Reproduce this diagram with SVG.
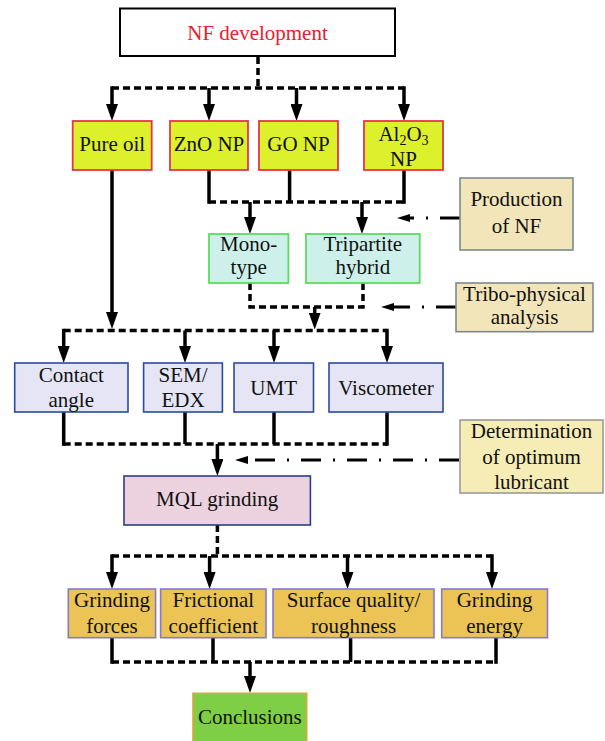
<svg xmlns="http://www.w3.org/2000/svg" width="605" height="741" viewBox="0 0 605 741">
<defs>
<style>
.sol{stroke:#000;stroke-width:3.5;fill:none}
.dash{stroke:#000;stroke-width:3.5;stroke-dasharray:7 4;fill:none}
.dd{stroke:#000;stroke-width:3;stroke-dasharray:20 12 2 12;fill:none}
.arr{marker-end:url(#ah)}
.arr2{marker-end:url(#ah2)}
.t text{font-family:'Liberation Serif','Times New Roman',Times,serif;font-size:21px;text-anchor:middle;fill:#111}
.np rect{fill:#dcf02c;stroke:#e8344c;stroke-width:1.8}
.hy rect{fill:#cdf1ea;stroke:#5ddc5d;stroke-width:1.8}
.side rect{fill:#f3e5ba;stroke:#7d8a8c;stroke-width:1.6}
.tst rect{fill:#e5e5f5;stroke:#2c4a9e;stroke-width:1.6}
.res rect{fill:#ecc456;stroke:#8878d0;stroke-width:1.6}
</style>
<marker id="ah" viewBox="0 -6 17 12" refX="7" refY="0" markerWidth="17" markerHeight="12" markerUnits="userSpaceOnUse" orient="auto">
<path d="M0,-6 L17,0 L0,6 z" fill="#000"/>
</marker>
<marker id="ah2" viewBox="0 -4 13 8" refX="0" refY="0" markerWidth="13" markerHeight="8" markerUnits="userSpaceOnUse" orient="auto">
<path d="M0,-4 L13,0 L0,4 z" fill="#000"/>
</marker>
</defs>
<rect width="605" height="741" fill="#fff"/>

<g id="connectors">
<path class="dash" d="M258,57 V88"/>
<path class="dash" d="M112,88 H404"/>
<path class="sol arr" d="M112,86.3 V111"/>
<path class="sol arr" d="M209,88 V111"/>
<path class="sol arr" d="M296.5,88 V111"/>
<path class="sol arr" d="M404,86.3 V111"/>

<path class="sol" d="M209,170 V203.8"/>
<path class="sol" d="M289.6,170 V202"/>
<path class="sol" d="M404,170 V203.8"/>
<path class="dash" d="M209,202 H404"/>
<path class="sol arr" d="M250,202 V224"/>
<path class="sol arr" d="M362,202 V224"/>
<path class="sol arr" d="M112,170 V319"/>
<path class="dd arr2" d="M460,218 H410"/>

<path class="dash" d="M250,283 V307 H363 V283"/>
<path class="sol arr" d="M314.7,307 V319.5"/>
<path class="dd arr2" d="M456,307 H394"/>
<path class="dash" d="M63.7,330.5 H387"/>
<path class="sol arr" d="M63.7,328.8 V353"/>
<path class="sol arr" d="M185,330.5 V353"/>
<path class="sol arr" d="M274,330.5 V353"/>
<path class="sol arr" d="M387,328.8 V353"/>

<path class="sol" d="M63.7,412 V445.8"/>
<path class="sol" d="M185,412 V444"/>
<path class="sol" d="M274,412 V444"/>
<path class="sol" d="M387,412 V445.8"/>
<path class="dash" d="M63.7,444 H387"/>
<path class="sol arr" d="M217.4,444 V466"/>
<path class="dd arr2" d="M459,460 H248"/>
<path class="dash" d="M217.4,525 V556"/>

<path class="dash" d="M112,556 H492"/>
<path class="sol arr" d="M112,554.3 V579"/>
<path class="sol arr" d="M209.6,556 V579"/>
<path class="sol arr" d="M347.5,556 V579"/>
<path class="sol arr" d="M492,554.3 V579"/>
<path class="sol" d="M112,638 V663.8"/>
<path class="sol" d="M213,638 V662"/>
<path class="sol" d="M350.6,638 V662"/>
<path class="sol" d="M496,638 V663.8"/>
<path class="dash" d="M112,662 H496"/>
<path class="sol arr" d="M250,662 V683"/>
</g>

<g class="t" font-family="Liberation Serif, Times New Roman, serif">
<g id="nf-development">
<rect x="120" y="8.5" width="275" height="47.5" fill="#fff" stroke="#000" stroke-width="2"/>
<text x="257.5" y="40" style="fill:#e8202a">NF development</text>
</g>

<g id="pure-oil" class="np">
<rect x="72.7" y="121" width="79" height="49"/>
<text x="112.2" y="151">Pure oil</text>
</g>
<g id="zno-np" class="np">
<rect x="170" y="121" width="78" height="49"/>
<text x="209" y="151">ZnO NP</text>
</g>
<g id="go-np" class="np">
<rect x="259" y="121" width="79" height="49"/>
<text x="298.5" y="151">GO NP</text>
</g>
<g id="al2o3-np" class="np">
<rect x="364" y="121" width="79" height="49"/>
<text x="403.5" y="140.6">Al<tspan font-size="14" dy="4">2</tspan><tspan dy="-4">O</tspan><tspan font-size="14" dy="4">3</tspan></text>
<text x="403.5" y="165.6">NP</text>
</g>

<g id="mono-type" class="hy">
<rect x="209" y="234" width="79.4" height="49"/>
<text x="248.7" y="250.5">Mono-</text>
<text x="248.7" y="274">type</text>
</g>
<g id="tripartite-hybrid" class="hy">
<rect x="306" y="234" width="113.7" height="49"/>
<text x="362.8" y="250.5">Tripartite</text>
<text x="362.8" y="274">hybrid</text>
</g>

<g id="production-of-nf" class="side">
<rect x="460" y="178" width="113" height="72"/>
<text x="516.5" y="205.6">Production</text>
<text x="516.5" y="232.6">of NF</text>
</g>
<g id="tribo-physical-analysis" class="side">
<rect x="456" y="283" width="137" height="48.7"/>
<text x="524.5" y="300.6">Tribo-physical</text>
<text x="524.5" y="324.3">analysis</text>
</g>

<g id="contact-angle" class="tst">
<rect x="14.7" y="363" width="113.3" height="49"/>
<text x="71.3" y="381.7">Contact</text>
<text x="71.3" y="406.5">angle</text>
</g>
<g id="sem-edx" class="tst">
<rect x="143.6" y="363" width="78.8" height="49"/>
<text x="183" y="381.7">SEM/</text>
<text x="183" y="406.5">EDX</text>
</g>
<g id="umt" class="tst">
<rect x="234" y="363" width="79.5" height="49"/>
<text x="273.7" y="395">UMT</text>
</g>
<g id="viscometer" class="tst">
<rect x="329" y="363" width="114" height="49"/>
<text x="386" y="395">Viscometer</text>
</g>

<g id="mql-grinding">
<rect x="124" y="476" width="186.4" height="49" fill="#ecd2df" stroke="#283c8c" stroke-width="1.6"/>
<text x="217.2" y="506">MQL grinding</text>
</g>

<g id="determination-of-optimum-lubricant">
<rect x="460" y="420" width="143" height="73" fill="#f6edb6" stroke="#9a9a9a" stroke-width="1.6"/>
<text x="531.5" y="438.3">Determination</text>
<text x="531.5" y="463.5">of optimum</text>
<text x="531.5" y="488.5">lubricant</text>
</g>

<g id="grinding-forces" class="res">
<rect x="68.3" y="589" width="87.3" height="48.7"/>
<text x="112" y="607">Grinding</text>
<text x="112" y="633">forces</text>
</g>
<g id="frictional-coefficient" class="res">
<rect x="160.6" y="589" width="105.4" height="48.7"/>
<text x="213.3" y="607">Frictional</text>
<text x="213.3" y="633">coefficient</text>
</g>
<g id="surface-quality-roughness" class="res">
<rect x="273" y="589" width="161" height="48.7"/>
<text x="353.5" y="607">Surface quality/</text>
<text x="353.5" y="633">roughness</text>
</g>
<g id="grinding-energy" class="res">
<rect x="441.7" y="589" width="105.8" height="48.7"/>
<text x="494.6" y="607">Grinding</text>
<text x="494.6" y="633">energy</text>
</g>

<g id="conclusions">
<rect x="193" y="693.3" width="113.7" height="55" fill="#7fcf46" stroke="#e2a436" stroke-width="1.6"/>
<text x="249.8" y="724">Conclusions</text>
</g>
</g>
</svg>
